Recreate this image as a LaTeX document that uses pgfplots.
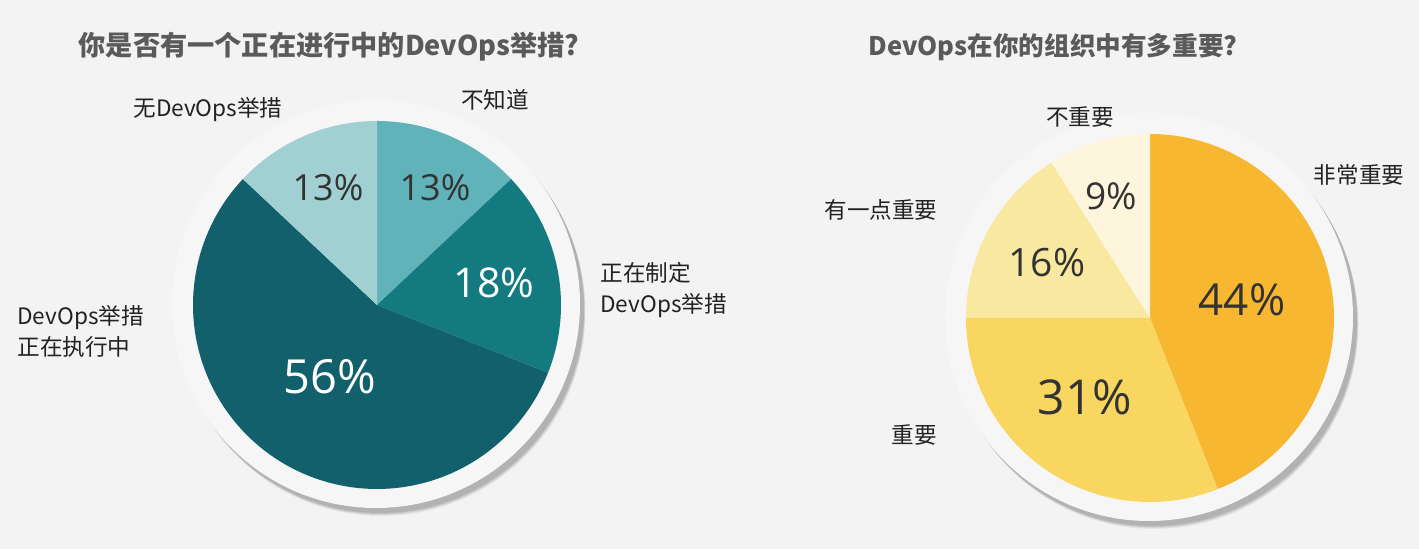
\documentclass[border=0pt]{standalone}
\usepackage{fontspec}
\setmainfont{Noto Sans CJK SC}
\newfontfamily\pctfont{Open Sans}
\usepackage{pgfplots}
\pgfplotsset{compat=1.18}

\definecolor{bgc}{HTML}{F3F3F3}
\definecolor{haloc}{HTML}{F6F6F6}
\definecolor{titlec}{HTML}{5A5A5A}
\definecolor{labc}{HTML}{222222}
\definecolor{pctc}{HTML}{333333}
% left pie
\definecolor{tA}{HTML}{60B3B9}
\definecolor{tB}{HTML}{137A80}
\definecolor{tC}{HTML}{12606C}
\definecolor{tD}{HTML}{A0D0D2}
% right pie
\definecolor{yA}{HTML}{F7B731}
\definecolor{yB}{HTML}{F8D660}
\definecolor{yC}{HTML}{F9E8A0}
\definecolor{yD}{HTML}{FDF6DC}

% slice: centre x, centre y, cumulative % from, cumulative % to, colour
% (clockwise from 12 o'clock, radius 184 px)
\newcommand\slice[5]{%
  \pgfmathsetmacro\aA{90-3.6*#4}\pgfmathsetmacro\aB{90-3.6*#3}%
  \edef\tmp{\noexpand\addplot[fill=#5,draw=none,domain=\aA:\aB,samples=120]
    ({#1+184*cos(x)},{#2+184*sin(x)}) -- (axis cs:#1,#2) -- cycle;}\tmp}

% halo ring with soft shadow behind a pie
\newcommand\halo[2]{%
  \fill[black,opacity=0.05] (axis cs:#1+4.5,#2-7) circle[radius=102pt];
  \fill[black,opacity=0.07] (axis cs:#1+4,#2-6) circle[radius=102pt];
  \fill[black,opacity=0.08] (axis cs:#1+3.5,#2-5) circle[radius=102pt];
  \fill[black,opacity=0.09] (axis cs:#1+3,#2-4) circle[radius=102pt];
  \fill[haloc] (axis cs:#1-1,#2+1) circle[radius=102pt];}

\begin{document}
\begin{tikzpicture}
\fill[bgc] (0,0) rectangle (709.5pt,274.5pt);
\begin{axis}[
  at={(0,0)}, anchor=south west,
  scale only axis, width=709.5pt, height=274.5pt,
  xmin=0, xmax=1419, ymin=0, ymax=549,
  hide axis, clip=false,
]
\halo{377}{244}
\halo{1150}{231}

% 你是否有一个正在进行中的DevOps举措?  13 / 18 / 56 / 13
\slice{377}{244}{0}{13}{tA}
\slice{377}{244}{13}{31}{tB}
\slice{377}{244}{31}{87}{tC}
\slice{377}{244}{87}{100}{tD}

% DevOps在你的组织中有多重要?  44 / 31 / 16 / 9
\slice{1150}{231}{0}{44}{yA}
\slice{1150}{231}{44}{75}{yB}
\slice{1150}{231}{75}{91}{yC}
\slice{1150}{231}{91}{100}{yD}

% titles
\node[font=\fontsize{13.6}{15}\selectfont\bfseries, text=titlec] at (axis cs:329,502) {你是否有一个正在进行中的DevOps举措?};
\node[font=\fontsize{12.8}{15}\selectfont\bfseries, text=titlec] at (axis cs:1053,502) {DevOps在你的组织中有多重要?};

% category labels
\begin{scope}[every node/.style={font=\fontsize{11.3}{15.5}\selectfont, text=labc, inner sep=0pt}]
\node at (axis cs:208,439) {无DevOps举措};
\node at (axis cs:495,449) {不知道};
\node[anchor=west, align=left] at (axis cs:600,259) {正在制定\\DevOps举措};
\node[anchor=west, align=left] at (axis cs:17,218) {DevOps举措\\正在执行中};
\node at (axis cs:1080,432) {不重要};
\node at (axis cs:1359,374) {非常重要};
\node at (axis cs:881,339) {有一点重要};
\node at (axis cs:914,114) {重要};
\end{scope}

% percentages
\begin{scope}[every node/.style={inner sep=0pt}]
\node[font=\pctfont\fontsize{18}{20}\selectfont, text=pctc] at (axis cs:328,361) {13\%};
\node[font=\pctfont\fontsize{18}{20}\selectfont, text=pctc] at (axis cs:435,361) {13\%};
\node[font=\pctfont\fontsize{20.5}{24}\selectfont, text=white] at (axis cs:494,266) {18\%};
\node[font=\pctfont\fontsize{23.5}{27}\selectfont, text=white] at (axis cs:330,172) {56\%};
\node[font=\pctfont\fontsize{18.5}{22}\selectfont, text=pctc] at (axis cs:1111,353) {9\%};
\node[font=\pctfont\fontsize{19.5}{23}\selectfont, text=pctc] at (axis cs:1047,286) {16\%};
\node[font=\pctfont\fontsize{22}{26}\selectfont, text=pctc] at (axis cs:1242,249) {44\%};
\node[font=\pctfont\fontsize{24}{28}\selectfont, text=pctc] at (axis cs:1085,152) {31\%};
\end{scope}
\end{axis}
\end{tikzpicture}
\end{document}
